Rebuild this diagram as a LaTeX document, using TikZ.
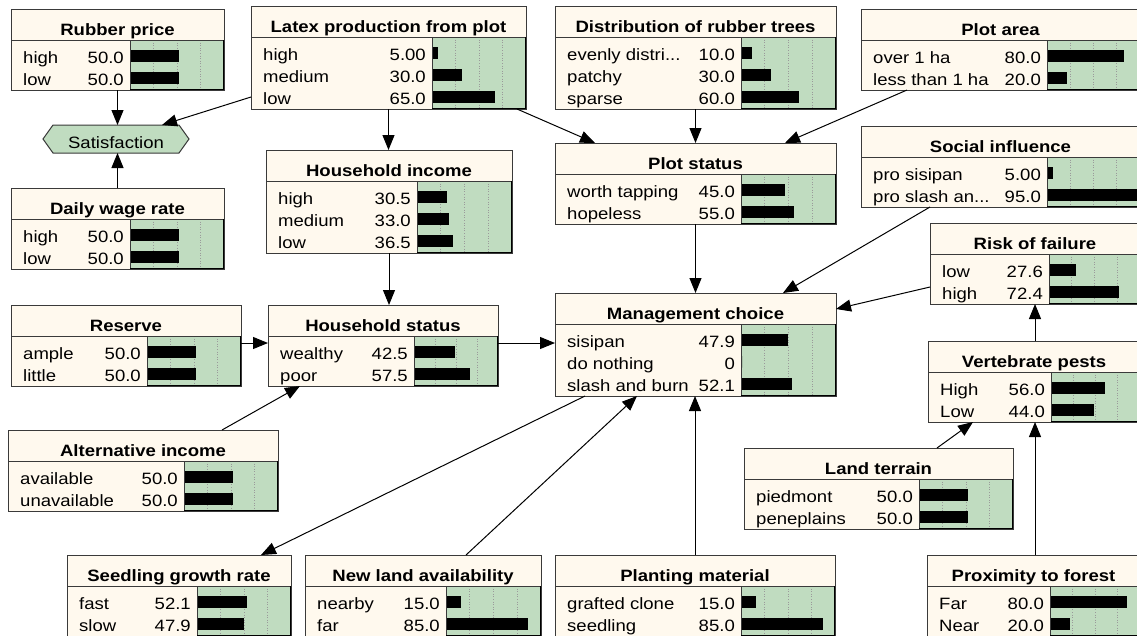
\documentclass[tikz,border=0pt]{standalone}
\usepackage{fontspec}
\setmainfont{Liberation Sans}[FakeStretch=1.13]
\usetikzlibrary{arrows.meta}
\definecolor{cream}{HTML}{FFF9EE}
\definecolor{bargreen}{HTML}{C0DCC0}
\definecolor{edge}{HTML}{3A3A3A}
\definecolor{gridc}{HTML}{9A9A9A}
\newcommand\mydots{...}
\tikzset{
  nodebox/.style={fill=cream, inner sep=0pt, outer sep=0pt, anchor=north west},
  boxedge/.style={draw=edge, line width=1pt},
  titletext/.style={font=\fontsize{16.4}{19}\selectfont\bfseries, anchor=base, inner sep=0pt},
  rowtext/.style={font=\fontsize{16.4}{19}\selectfont, inner sep=0pt},
  gridline/.style={draw=gridc, dotted, line width=0.6pt},
  link/.style={draw=black, line width=1pt, -{Triangle[length=15pt,width=12pt]}},
}
% name, x1, y1, x2, xbar, nrows, title, rows
\newcommand\bnode[8]{%
  \pgfmathsetmacro\bnH{37+22*#6}%
  \pgfmathsetmacro\bnW{#4-#2}%
  \pgfmathsetmacro\bnB{#3+\bnH}%
  \pgfmathsetmacro\bnS{#3+31}%
  \pgfmathsetmacro\bnG{(#4-#5)/4}%
  \node[nodebox, minimum width=\bnW pt, minimum height=\bnH pt] (#1) at (#2,#3) {};
  \fill[bargreen] (#5,\bnS) rectangle (#4,\bnB);
  \foreach \k in {1,2,3} \draw[gridline] ({#5+\k*\bnG},\bnS) -- ({#5+\k*\bnG},\bnB);
  \draw[boxedge] (#2,\bnS) -- (#4,\bnS);
  \draw[boxedge] (#5,\bnS) -- (#5,\bnB);
  \draw[draw=black, line width=1.6pt] (#5,\bnB) -- (#4,\bnB) -- (#4,\bnS);
  \draw[boxedge] (#1.north west) rectangle (#1.south east);
  \node[titletext] at ({(#2+#4)/2},#3+26) {#7};
  \foreach \lab/\val/\pct [count=\i from 0] in {#8} {
    \node[rowtext, anchor=base west] at (#2+12, \bnS+23.5+22*\i) {\lab};
    \node[rowtext, anchor=base east] at (#5-6, \bnS+23.5+22*\i) {\val};
    \fill[black] (#5+1, \bnS+10+22*\i) rectangle ({#5+1+0.95*\pct}, \bnS+21.5+22*\i);
  }%
}
\begin{document}
\begin{tikzpicture}[x=1pt,y=-1pt]
\useasboundingbox (0,0) rectangle (1137,635);
\fill[white] (0,0) rectangle (1137,635);
\clip (0,0) rectangle (1137,635);

\bnode{rp}{11}{9}{224}{130}{2}{Rubber price}{high/50.0/50, low/50.0/50}
\bnode{dw}{11}{188}{224}{130}{2}{Daily wage rate}{high/50.0/50, low/50.0/50}
\bnode{lp}{251}{6}{526}{432}{3}{Latex production from plot}{high/5.00/5, medium/30.0/30, low/65.0/65}
\bnode{dr}{555}{6}{836}{741}{3}{Distribution of rubber trees}{evenly distri\mydots/10.0/10, patchy/30.0/30, sparse/60.0/60}
\bnode{pa}{861}{9}{1140}{1047}{2}{Plot area}{over 1 ha/80.0/80, less than 1 ha/20.0/20}
\bnode{hi}{266}{150}{512}{417}{3}{Household income}{high/30.5/30.5, medium/33.0/33, low/36.5/36.5}
\bnode{ps}{555}{143}{836}{741}{2}{Plot status}{worth tapping/45.0/45, hopeless/55.0/55}
\bnode{si}{861}{126}{1140}{1047}{2}{Social influence}{pro sisipan/5.00/5, pro slash an\mydots/95.0/95}
\bnode{rf}{930}{223}{1140}{1049}{2}{Risk of failure}{low/27.6/27.6, high/72.4/72.4}
\bnode{re}{11}{305}{241}{147}{2}{Reserve}{ample/50.0/50, little/50.0/50}
\bnode{hs}{268}{305}{498}{414}{2}{Household status}{wealthy/42.5/42.5, poor/57.5/57.5}
\bnode{mc}{555}{293}{836}{741}{3}{Management choice}{sisipan/47.9/47.9, do nothing/0/0, slash and burn/52.1/52.1}
\bnode{vp}{928}{341}{1140}{1051}{2}{Vertebrate pests}{High/56.0/56, Low/44.0/44}
\bnode{ai}{8}{430}{278}{184}{2}{Alternative income}{available/50.0/50, unavailable/50.0/50}
\bnode{lt}{744}{448}{1013}{919}{2}{Land terrain}{piedmont/50.0/50, peneplains/50.0/50}
\bnode{sg}{67}{555}{291}{197}{2}{Seedling growth rate}{fast/52.1/52.1, slow/47.9/47.9}
\bnode{nl}{305}{555}{541}{446}{2}{New land availability}{nearby/15.0/15, far/85.0/85}
\bnode{pm}{555}{555}{835}{741}{2}{Planting material}{grafted clone/15.0/15, seedling/85.0/85}
\bnode{pf}{927}{555}{1140}{1050}{2}{Proximity to forest}{Far/80.0/80, Near/20.0/20}

% Satisfaction utility node
\node[inner sep=0pt, outer sep=0pt, minimum width=146pt, minimum height=28pt] (sat) at (116,139) {};
\filldraw[fill=bargreen, draw=edge, line width=1pt] (sat.west) -- ([xshift=10pt]sat.north west) -- ([xshift=-10pt]sat.north east) -- (sat.east) -- ([xshift=-10pt]sat.south east) -- ([xshift=10pt]sat.south west) -- cycle;
\node[rowtext, anchor=base] at ([yshift=-9pt]sat.center) {Satisfaction};

% helper coordinates
\coordinate (v1) at ([xshift=107pt]vp.north west);
\coordinate (p1) at ([xshift=108pt]pf.north west);

% connectors
\draw[link] (rp.south) -- (rp.south |- sat.north);
\draw[link] (dw.north) -- (dw.north |- sat.south);
\draw[link] ([yshift=12pt]lp.south west) -- ([xshift=119pt]sat.north west);
\draw[link] (lp.south) -- (lp.south |- hi.north);
\draw[link] ([xshift=-9pt]lp.south east) -- ([xshift=40pt]ps.north west);
\draw[link] (dr.south) -- (ps.north);
\draw[link] ([xshift=46pt]pa.south west) -- ([xshift=230pt]ps.north west);
\draw[link] (ps.south) -- (mc.north);
\draw[link] ([xshift=69pt]si.south west) -- ([xshift=228pt]mc.north west);
\draw[link] ([yshift=17pt]rf.south west) -- ([yshift=-16pt]mc.north east);
\draw[link] (v1) -- (v1 |- rf.south);
\draw[link] (hi.south) -- (hi.south |- hs.north);
\draw[link] ([yshift=-38pt]re.north east) -- ([yshift=-38pt]hs.north west);
\draw[link] ([xshift=214pt]ai.north west) -- ([xshift=32pt]hs.south west);
\draw[link] ([yshift=-38pt]hs.north east) -- ([yshift=-50pt]mc.north west);
\draw[link] ([xshift=30pt]mc.south west) -- ([xshift=194pt]sg.north west);
\draw[link] ([xshift=161pt]nl.north west) -- ([xshift=82pt]mc.south west);
\draw[link] (pm.north) -- (pm.north |- mc.south);
\draw[link] ([xshift=193pt]lt.north west) -- ([xshift=45pt]vp.south west);
\draw[link] (p1) -- (p1 |- vp.south);
\end{tikzpicture}
\end{document}
